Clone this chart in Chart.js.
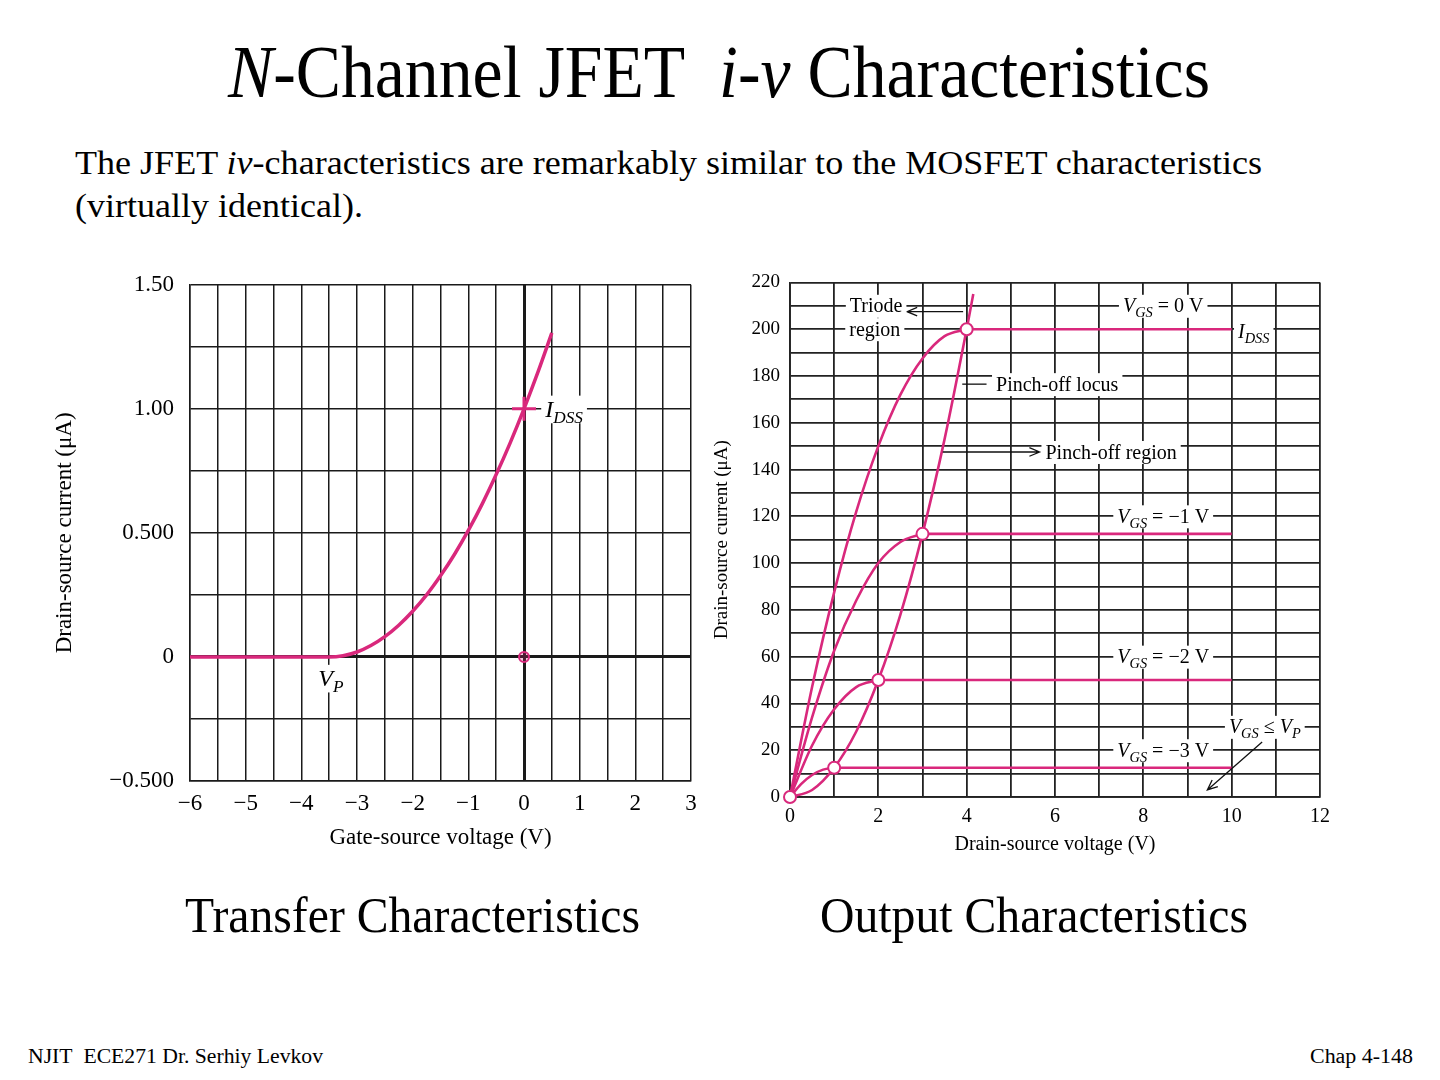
<!DOCTYPE html>
<html>
<head>
<meta charset="utf-8">
<script src="https://cdn.jsdelivr.net/npm/chart.js@4.4.1/dist/chart.umd.min.js"></script>
<style>
  body { margin: 0; width: 1440px; height: 1080px; background: #fff; position: relative; overflow: hidden;
         font-family: "Liberation Serif", "Times New Roman", serif; color: #000; }
  .fit { position: absolute; white-space: nowrap; line-height: 1; transform-origin: 0 0; }
  #left { position: absolute; left: 40px; top: 255px; }
  #right { position: absolute; left: 705px; top: 261px; }
</style>
</head>
<body>

<div class="fit" data-l="228" data-w="982" style="top:34px;font-size:75px"><i>N</i>-Channel JFET&nbsp; <i>i-v</i> Characteristics</div>
<div class="fit" data-l="75" data-w="1187" style="top:147px;font-size:33px">The JFET <i>iv</i>-characteristics are remarkably similar to the MOSFET characteristics</div>
<div class="fit" data-l="75" data-w="288" style="top:190px;font-size:33px">(virtually identical).</div>
<div class="fit" data-l="185" data-w="455" style="top:890px;font-size:50px">Transfer Characteristics</div>
<div class="fit" data-l="820" data-w="428" style="top:890px;font-size:50px">Output Characteristics</div>
<div class="fit" data-l="28" data-w="295" style="top:1046px;font-size:20px">NJIT&nbsp; ECE271 Dr. Serhiy Levkov</div>
<div class="fit" data-l="1310" data-w="103" style="top:1046px;font-size:20px">Chap 4-148</div>

<canvas id="left" width="680" height="600"></canvas>
<canvas id="right" width="640" height="600"></canvas>

<script>
// ---------- transfer characteristic ----------
const vgs = [-6, -3.5, -3.25, -3, -2.75, -2.5, -2.25, -2, -1.75, -1.5, -1.25, -1, -0.75, -0.5, -0.25, 0, 0.25, 0.5];
const idTransfer = [0, 0, 0.005, 0.02, 0.046, 0.082, 0.128, 0.184, 0.25, 0.327, 0.413, 0.51, 0.617, 0.735, 0.862, 1.0, 1.148, 1.306];
const yTickLabels = { '1.5': '1.50', '1': '1.00', '0.5': '0.500', '0': '0', '-0.5': '\u22120.500' };

// ---------- output characteristics ----------
const vdsT0 = [0, 0.5, 1, 1.5, 2, 2.5, 3, 3.5, 4];
const idT0  = [0, 47, 87.5, 122, 150, 172, 187.5, 197, 200];
const vdsT1 = [0, 0.5, 1, 1.5, 2, 2.5, 3];
const idT1  = [0, 34, 62.5, 84, 100, 109, 112.5];
const vdsT2 = [0, 0.5, 1, 1.5, 2];
const idT2  = [0, 22, 37.5, 47, 50];
const vdsT3 = [0, 0.25, 0.5, 0.75, 1];
const idT3  = [0, 5.5, 9.4, 11.7, 12.5];
const vdsLocus = [0, 0.5, 1, 1.5, 2, 2.5, 3, 3.5, 4, 4.15];
const idLocus  = [0, 3, 12.5, 28, 50, 78, 112.5, 153, 200, 215];
const kneeV   = [0, 1, 2, 3, 4];
const kneeI   = [0, 12.5, 50, 112.5, 200];
const satEnd  = 10;

const pink = '#d9287c';
const serif = '"Liberation Serif", "Times New Roman", serif';

function pts(xs, ys) { return xs.map((x, i) => ({ x: x, y: ys[i] })); }
function minus(v) { return v < 0 ? '\u2212' + Math.abs(v) : String(v); }

// text like V_GS = 0 V, with italic parts and subscripts, on a white box
function richText(ctx, cx, cy, parts, size) {
  const sub = size * 0.72;
  let w = 0;
  const widths = parts.map(p => {
    ctx.font = (p[1] === 'n' ? '' : 'italic ') + (p[1] === 's' ? sub : size) + 'px ' + serif;
    const m = ctx.measureText(p[0]).width;
    w += m;
    return m;
  });
  let x = cx - w / 2;
  ctx.fillStyle = '#fff';
  ctx.fillRect(x - 4, cy - size * 0.55, w + 8, size * 1.15);
  ctx.fillStyle = '#000';
  ctx.textBaseline = 'alphabetic';
  ctx.textAlign = 'left';
  const base = cy + size * 0.33;
  parts.forEach((p, i) => {
    ctx.font = (p[1] === 'n' ? '' : 'italic ') + (p[1] === 's' ? sub : size) + 'px ' + serif;
    ctx.fillText(p[0], x, p[1] === 's' ? base + size * 0.25 : base);
    x += widths[i];
  });
}

function arrow(ctx, x1, y1, x2, y2, head) {
  ctx.strokeStyle = '#111';
  ctx.lineWidth = 1.3;
  ctx.beginPath();
  ctx.moveTo(x1, y1); ctx.lineTo(x2, y2);
  if (head) {
    const a = Math.atan2(y2 - y1, x2 - x1);
    ctx.moveTo(x2 - 11 * Math.cos(a - 0.4), y2 - 11 * Math.sin(a - 0.4));
    ctx.lineTo(x2, y2);
    ctx.lineTo(x2 - 11 * Math.cos(a + 0.4), y2 - 11 * Math.sin(a + 0.4));
  }
  ctx.stroke();
}

const notesPlugin = {
  id: 'notes',
  afterDraw(chart, args, opts) {
    const ctx = chart.ctx, xs = chart.scales.x, ys = chart.scales.y;
    ctx.save();
    (opts.lines || []).forEach(l => arrow(ctx,
      xs.getPixelForValue(l[0]), ys.getPixelForValue(l[1]),
      xs.getPixelForValue(l[2]), ys.getPixelForValue(l[3]), l[4]));
    (opts.labels || []).forEach(l => richText(ctx,
      xs.getPixelForValue(l.x), ys.getPixelForValue(l.y), l.parts, opts.size));
    ctx.restore();
  }
};

// ---------------- left chart ----------------
new Chart(document.getElementById('left'), {
  type: 'line',
  data: {
    datasets: [
      { data: pts(vgs, idTransfer), borderColor: pink, borderWidth: 3.5, pointRadius: 0, cubicInterpolationMode: 'monotone' },
      { data: [{ x: 0, y: 1 }], order: -1, showLine: false, pointStyle: 'cross', pointRadius: 12, borderWidth: 3, borderColor: pink },
      { data: [{ x: 0, y: 0 }], order: -1, showLine: false, pointStyle: 'circle', pointRadius: 5, borderWidth: 2, borderColor: pink, backgroundColor: 'rgba(217,40,124,0.25)' }
    ]
  },
  options: {
    responsive: false, animation: false,
    layout: { padding: { top: 10, right: 29, left: 0, bottom: 0 } },
    plugins: {
      legend: { display: false }, tooltip: { enabled: false },
      notes: {
        size: 24,
        labels: [
          { x: 0.72, y: 1.0, parts: [['I', 'i'], ['DSS', 's']] },
          { x: -3.47, y: -0.085, parts: [['V', 'i'], ['P', 's']] }
        ]
      }
    },
    scales: {
      x: {
        type: 'linear', min: -6, max: 3,
        afterFit: s => { s.height = 74; },
        ticks: { stepSize: 0.5, autoSkip: false, maxRotation: 0, padding: 9, color: '#000',
                 font: { family: serif, size: 23 },
                 callback: v => Number.isInteger(v) ? minus(v) : '' },
        grid: { color: '#1a1a1a', drawTicks: false, lineWidth: c => (c.tick && c.tick.value === 0) ? 3 : 1.5 },
        border: { color: '#1a1a1a', width: 1.5 },
        title: { display: true, text: 'Gate-source voltage (V)', color: '#000', font: { family: serif, size: 23 }, padding: { top: 0, bottom: 3 } }
      },
      y: {
        min: -0.5, max: 1.5,
        afterFit: s => { s.width = 150; },
        ticks: { stepSize: 0.25, autoSkip: false, padding: 16, color: '#000',
                 font: { family: serif, size: 23 },
                 callback: v => yTickLabels[String(v)] || '' },
        grid: { color: '#1a1a1a', drawTicks: false, lineWidth: c => (c.tick && c.tick.value === 0) ? 3 : 1.5 },
        border: { color: '#1a1a1a', width: 1.5 },
        title: { display: true, text: 'Drain-source current (\u03bcA)', color: '#000', font: { family: serif, size: 23 }, padding: { top: 11, bottom: 0 } }
      }
    }
  },
  plugins: [notesPlugin]
});

// ---------------- right chart ----------------
const curveStyle = { borderColor: pink, borderWidth: 2.6, pointRadius: 0, cubicInterpolationMode: 'monotone' };
const satSets = kneeV.slice(1).map((v, i) => Object.assign({
  data: [{ x: v, y: kneeI[i + 1] }, { x: satEnd, y: kneeI[i + 1] }]
}, curveStyle));

new Chart(document.getElementById('right'), {
  type: 'line',
  data: {
    datasets: [
      Object.assign({ data: pts(vdsT0, idT0) }, curveStyle),
      Object.assign({ data: pts(vdsT1, idT1) }, curveStyle),
      Object.assign({ data: pts(vdsT2, idT2) }, curveStyle),
      Object.assign({ data: pts(vdsT3, idT3) }, curveStyle),
      Object.assign({ data: pts(vdsLocus, idLocus) }, curveStyle),
      ...satSets,
      { data: pts(kneeV, kneeI), order: -1, clip: false, showLine: false, pointStyle: 'circle', pointRadius: 6, borderWidth: 2,
        borderColor: pink, backgroundColor: '#fff' }
    ]
  },
  options: {
    responsive: false, animation: false,
    layout: { padding: { top: 10, right: 25, left: 0, bottom: 0 } },
    plugins: {
      legend: { display: false }, tooltip: { enabled: false },
      notes: {
        size: 20,
        lines: [
          [3.92, 207.5, 2.65, 207.5, true],
          [3.9, 176.5, 4.45, 176.5, false],
          [3.46, 147.5, 5.65, 147.5, true],
          [10.69, 23.5, 9.45, 3, true]
        ],
        labels: [
          { x: 1.95, y: 210, parts: [['Triode', 'n']] },
          { x: 1.92, y: 200, parts: [['region', 'n']] },
          { x: 8.45, y: 210, parts: [['V', 'i'], ['GS', 's'], [' = 0 V', 'n']] },
          { x: 10.5, y: 199, parts: [['I', 'i'], ['DSS', 's']] },
          { x: 6.05, y: 176.5, parts: [['Pinch-off locus', 'n']] },
          { x: 7.27, y: 147.5, parts: [['Pinch-off region', 'n']] },
          { x: 8.45, y: 120, parts: [['V', 'i'], ['GS', 's'], [' = \u22121 V', 'n']] },
          { x: 8.45, y: 60, parts: [['V', 'i'], ['GS', 's'], [' = \u22122 V', 'n']] },
          { x: 10.75, y: 30, parts: [['V', 'i'], ['GS', 's'], [' \u2264 ', 'n'], ['V', 'i'], ['P', 's']] },
          { x: 8.45, y: 20, parts: [['V', 'i'], ['GS', 's'], [' = \u22123 V', 'n']] }
        ]
      }
    },
    scales: {
      x: {
        type: 'linear', min: 0, max: 12,
        afterFit: s => { s.height = 64; },
        ticks: { stepSize: 1, autoSkip: false, maxRotation: 0, padding: 8, color: '#000',
                 font: { family: serif, size: 20 },
                 callback: v => v % 2 === 0 ? String(v) : '' },
        grid: { color: '#222', drawTicks: false, lineWidth: 1.8 },
        border: { color: '#222', width: 1.8 },
        title: { display: true, text: 'Drain-source voltage (V)', color: '#000', font: { family: serif, size: 20 }, padding: { top: 0, bottom: 4 } }
      },
      y: {
        min: 0, max: 220,
        afterFit: s => { s.width = 85; },
        ticks: { stepSize: 10, autoSkip: false, padding: 10, color: '#000',
                 font: { family: serif, size: 19 },
                 callback: v => v % 20 === 0 ? String(v) : '' },
        grid: { color: '#222', drawTicks: false, lineWidth: 1.8 },
        border: { color: '#222', width: 1.8 },
        title: { display: true, text: 'Drain-source current (\u03bcA)', color: '#000', font: { family: serif, size: 19 }, padding: { top: 6, bottom: 0 } }
      }
    }
  },
  plugins: [notesPlugin]
});

// squeeze the page texts to the widths seen in the slide
document.querySelectorAll('.fit').forEach(el => {
  el.style.left = el.dataset.l + 'px';
  const w = el.getBoundingClientRect().width;
  el.style.transform = 'scaleX(' + (Number(el.dataset.w) / w) + ')';
});
</script>
</body>
</html>
